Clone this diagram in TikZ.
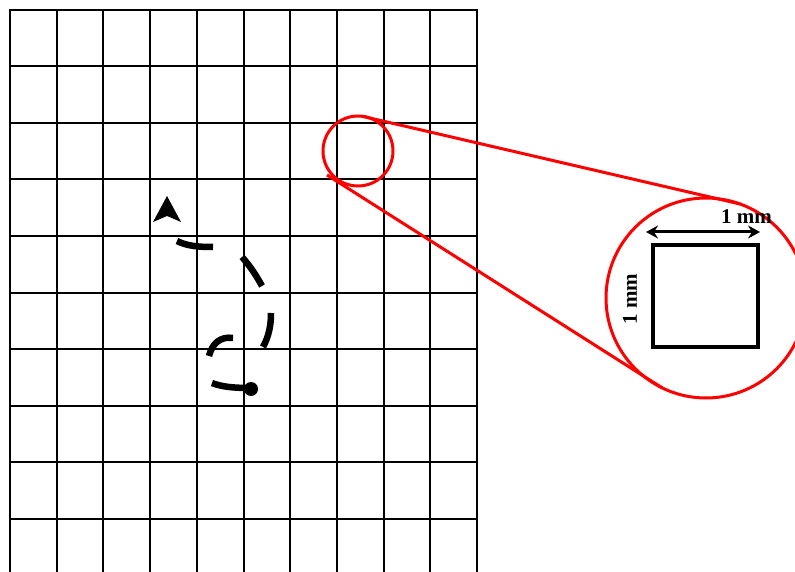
\documentclass[tikz,border=0pt]{standalone}
\usepackage{fontspec}
\setmainfont{Liberation Serif}
\usetikzlibrary{arrows.meta}
\begin{document}
\begin{tikzpicture}[x=1pt,y=-1pt,
  gridline/.style={line width=2pt,black},
  zoomline/.style={line width=3pt,red},
  dashseg/.style={line width=6.5pt,black},
  lbl/.style={font=\bfseries\fontsize{21}{24}\selectfont,inner sep=0pt}]
\useasboundingbox (0,0) rectangle (795,572);
\clip (0,0) rectangle (795,572);
% grid
\foreach \i in {0,...,10} {
  \draw[gridline] ({10+46.7*\i},10) -- ({10+46.7*\i},575);
}
\foreach \j in {0,...,9} {
  \draw[gridline] (9,{10+56.5*\j}) -- (478,{10+56.5*\j});
}
% path (dashed trajectory)
\coordinate (start) at (251,389);
\coordinate (tip) at (167,196);
\fill (start) circle (7);
\draw[dashseg] (251,388) .. controls (235,388) and (222,387) .. (212,383);
\draw[dashseg] (209,356) .. controls (212,344) and (220,336) .. (233,338);
\draw[dashseg] (263,347) .. controls (269,336) and (271,325) .. (271,313);
\draw[dashseg] (242,257) .. controls (250,266) and (256,275) .. (262,286);
\draw[dashseg] (177,241) .. controls (187,246) and (198,247) .. (213,247);
\fill (tip) -- (181,222) -- (167,216) -- (153,222) -- cycle;
% magnifier
\node[circle,draw=red,line width=3pt,minimum size=70pt,inner sep=0pt,outer sep=0pt] (lens) at (358,151) {};
\node[circle,draw=red,line width=3pt,minimum size=200pt,inner sep=0pt,outer sep=0pt] (big) at (706,298) {};
\coordinate (lowstart) at (327,175);
\draw[zoomline] (lens.83) -- (big.70);
\draw[zoomline] (lowstart) -- (big.244.5);
% square and dimensions
\node[draw,line width=4pt,minimum width=105pt,minimum height=102pt,inner sep=0pt,outer sep=0pt] (sq) at (705,295.5) {};
\coordinate (al) at (646,232);
\coordinate (ar) at (760,232);
\draw[line width=3pt,{Stealth[length=12pt,width=13pt,inset=4pt]}-{Stealth[length=12pt,width=13pt,inset=4pt]}] (al) -- (ar);
\node[lbl] (toplbl) at (746.5,217) {1 mm};
\node[lbl,rotate=90] (sidelbl) at (630,299) {1 mm};
\end{tikzpicture}
\end{document}
